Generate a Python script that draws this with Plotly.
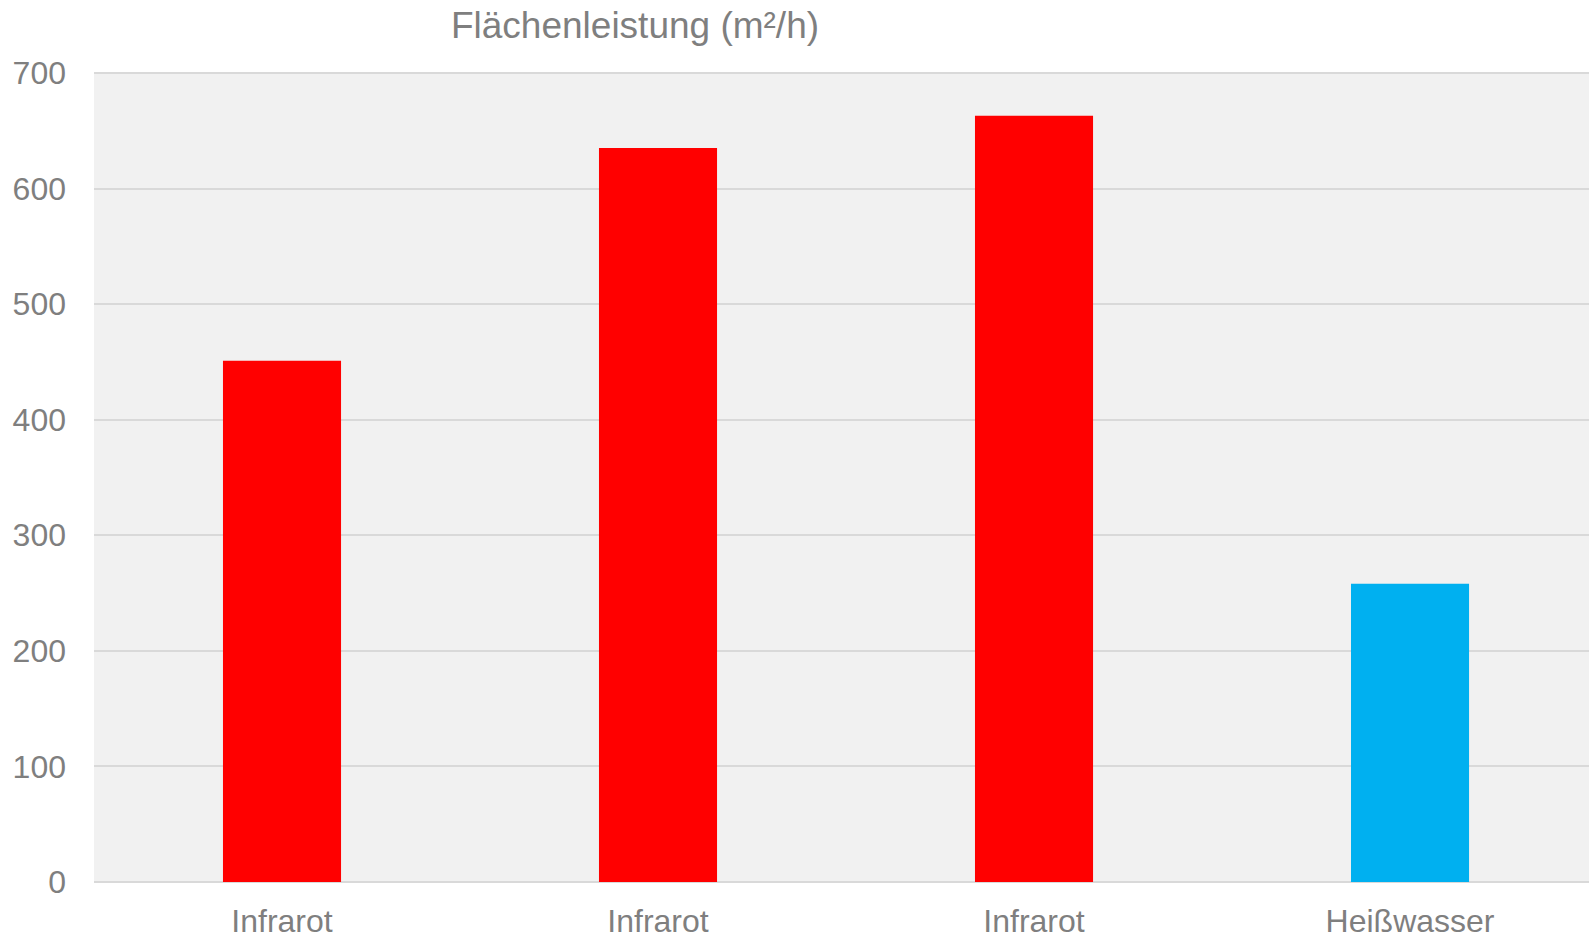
import plotly.graph_objects as go

categories = ["Infrarot", "Infrarot ", "Infrarot  ", "Heißwasser"]
tick_text = ["Infrarot", "Infrarot", "Infrarot", "Heißwasser"]
values = [451, 635, 663, 258]
colors = ["#ff0000", "#ff0000", "#ff0000", "#00b0f0"]
y_ticks = [0, 100, 200, 300, 400, 500, 600, 700]
y_max = 700

fig = go.Figure(go.Bar(
    x=list(range(len(categories))),
    y=values,
    marker=dict(color=colors, line=dict(width=0)),
    width=0.314,
))

font_family = "Liberation Sans, Arial, sans-serif"
grey = "#7f7f7f"

fig.update_layout(
    width=1589, height=935,
    margin=dict(l=94, r=0, t=72, b=53, autoexpand=False),
    paper_bgcolor="white",
    plot_bgcolor="#f1f1f1",
    showlegend=False,
    font=dict(family=font_family, color=grey),
    title=dict(text="Flächenleistung (m²/h)", x=635/1589, xanchor="center",
               y=1 - 25/935, yanchor="middle", automargin=False,
               font=dict(size=37, color=grey, family=font_family)),
)
# top gridline (700) which plotly omits at the plot edge
fig.add_shape(type="line", xref="paper", x0=0, x1=1, yref="y", y0=y_max, y1=y_max,
              line=dict(color="#d9d9d9", width=2), layer="below")
fig.update_xaxes(
    tickmode="array", tickvals=list(range(len(categories))), ticktext=tick_text,
    range=[-0.5, 3.476], showgrid=False, zeroline=False, showline=False,
    tickfont=dict(size=32, color=grey), ticks="", ticklabelstandoff=17,
    automargin=False,
)
fig.update_yaxes(
    range=[0, 700.8], tickvals=y_ticks,
    gridcolor="#d9d9d9", gridwidth=2, zeroline=True, zerolinecolor="#d9d9d9",
    zerolinewidth=2, showline=False, tickfont=dict(size=32, color=grey),
    ticks="", ticklabelstandoff=27, automargin=False,
)

fig.write_html("out.html")
